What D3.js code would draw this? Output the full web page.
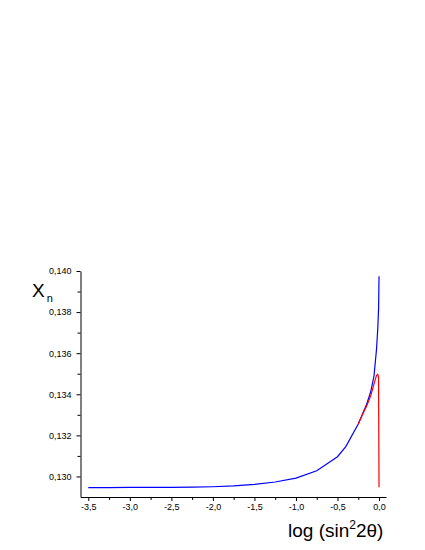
<!DOCTYPE html>
<html>
<head>
<meta charset="utf-8">
<script src="https://cdn.jsdelivr.net/npm/d3@7"></script>
<style>
body { margin: 0; background: #fff; }
svg { display: block; font-family: Arial, 'Liberation Sans', sans-serif; }
.axis path, .axis line { stroke: #000; stroke-width: 1; }
.axis text { font-size: 9px; fill: #000; }
</style>
</head>
<body>
<svg id="chart" width="425" height="550"></svg>
<script>
// data
const blueX = [-3.5, -3.25, -3.0, -2.75, -2.5, -2.25, -2.0, -1.75, -1.5, -1.25, -1.0, -0.75, -0.5, -0.4, -0.25, -0.15, -0.1, -0.06, -0.03, -0.015, -0.005, 0];
const blueY = [0.12946, 0.12946, 0.12947, 0.12947, 0.12947, 0.12948, 0.12950, 0.12954, 0.12961, 0.12973, 0.12992, 0.13028, 0.13096, 0.13145, 0.13255, 0.13350, 0.13412, 0.13490, 0.13620, 0.13720, 0.13820, 0.13975];
const redX = [-0.25, -0.2, -0.15, -0.1, -0.05, -0.03, -0.015, -0.006, 0];
const redY = [0.13255, 0.13300, 0.13342, 0.13392, 0.13465, 0.13492, 0.13497, 0.13483, 0.12948];

const xMajor = [-3.5, -3.0, -2.5, -2.0, -1.5, -1.0, -0.5, 0.0];
const xMinor = [-3.25, -2.75, -2.25, -1.75, -1.25, -0.75, -0.25];
const yMajor = [0.130, 0.132, 0.134, 0.136, 0.138, 0.140];
const yMinor = [0.131, 0.133, 0.135, 0.137, 0.139];

const svg = d3.select('#chart');

// plot box
const box = {left: 80.5, right: 386, top: 271, bottom: 497};

const scaleX = d3.scaleLinear()
	.domain([-3.594, 0.084])
	.range([box.left, box.right]);

const scaleY = d3.scaleLinear()
	.domain([0.129, 0.140])
	.range([box.bottom, box.top]);

const commaX = d => d3.format('.1f')(d).replace('.', ',').replace('−', '-');
const commaY = d => d3.format('.3f')(d).replace('.', ',');

// x axis
svg.append('g')
	.attr('class', 'axis')
	.attr('transform', 'translate(0,' + box.bottom + ')')
	.call(d3.axisBottom(scaleX).tickValues(xMajor).tickFormat(commaX).tickSize(4).tickSizeOuter(0).tickPadding(3));

svg.append('g')
	.attr('class', 'axis')
	.attr('transform', 'translate(0,' + box.bottom + ')')
	.call(d3.axisBottom(scaleX).tickValues(xMinor).tickFormat('').tickSize(3).tickSizeOuter(0))
	.select('.domain').remove();

// y axis
svg.append('g')
	.attr('class', 'axis')
	.attr('transform', 'translate(' + box.left + ',0)')
	.call(d3.axisLeft(scaleY).tickValues(yMajor).tickFormat(commaY).tickSize(4).tickSizeOuter(0).tickPadding(5));

svg.append('g')
	.attr('class', 'axis')
	.attr('transform', 'translate(' + box.left + ',0)')
	.call(d3.axisLeft(scaleY).tickValues(yMinor).tickFormat('').tickSize(3).tickSizeOuter(0))
	.select('.domain').remove();

// curves
const line = d3.line()
	.x(d => scaleX(d[0]))
	.y(d => scaleY(d[1]));

svg.append('path')
	.datum(blueX.map((x, i) => [x, blueY[i]]))
	.attr('fill', 'none')
	.attr('stroke', '#0000ff')
	.attr('stroke-width', 1.2)
	.attr('d', line);

svg.append('path')
	.datum(redX.map((x, i) => [x, redY[i]]))
	.attr('fill', 'none')
	.attr('stroke', '#ff0000')
	.attr('stroke-width', 1.2)
	.attr('d', line);

// axis titles
const xt = svg.append('text')
	.attr('x', 288)
	.attr('y', 537)
	.style('font-size', '19px');
xt.append('tspan').text('log (sin');
xt.append('tspan').attr('dy', -8).style('font-size', '12px').text('2');
xt.append('tspan').attr('dy', 8).text('2θ)');

const yt = svg.append('text')
	.attr('x', 32)
	.attr('y', 297)
	.style('font-size', '19px');
yt.append('tspan').text('X');
yt.append('tspan').attr('dy', 5).attr('dx', 2).style('font-size', '11px').text('n');
</script>
</body>
</html>
